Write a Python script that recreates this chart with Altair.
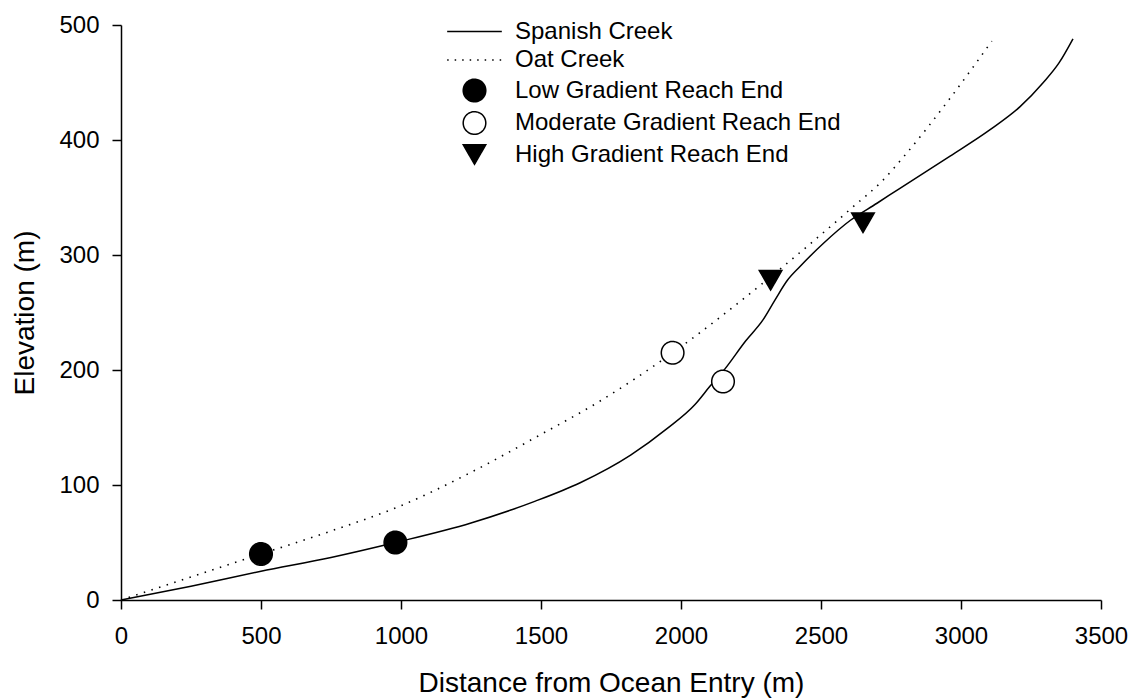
import altair as alt
import pandas as pd

# Spanish Creek longitudinal profile (distance m, elevation m)
spanish_x = [0, 250, 500, 750, 980, 1250, 1480, 1640, 1820, 1950, 2050, 2104, 2157,
             2230, 2294, 2336, 2380, 2425, 2508, 2604, 2700,
             2782, 2961, 3104, 3211, 3294, 3350, 3400]
spanish_y = [0, 12, 25, 37, 50, 67, 86, 102, 126, 149, 170, 186, 201,
             225, 244, 261, 278, 290, 310, 330, 345,
             358, 386, 409, 429, 450, 467, 488]

# Oat Creek longitudinal profile
oat_x = [0, 250, 500, 750, 1000, 1250, 1500, 1711, 1970, 2320, 2615, 2717, 2804, 2960, 3110]
oat_y = [0, 20, 40, 60, 82, 111, 144, 173, 215, 281, 342, 364, 388, 436, 486]

# Reach end markers
reach_x = [500, 980, 1970, 2150, 2320, 2650]
reach_y = [40, 50, 215, 190, 278, 328]
reach_type = ["Low Gradient Reach End", "Low Gradient Reach End",
              "Moderate Gradient Reach End", "Moderate Gradient Reach End",
              "High Gradient Reach End", "High Gradient Reach End"]

legend_names = ["Spanish Creek", "Oat Creek", "Low Gradient Reach End",
                "Moderate Gradient Reach End", "High Gradient Reach End"]
legend_shapes = ["M-2.42,0H2.42", "M-2.42,0H2.42", "circle", "circle", "triangle-down"]
legend_fills = ["transparent", "transparent", "black", "white", "black"]
legend_strokes = ["black", "black", "black", "black", "black"]
legend_dashes = [[1, 0], [1.5, 6], [1, 0], [1, 0], [1, 0]]

x_ticks = [0, 500, 1000, 1500, 2000, 2500, 3000, 3500]
y_ticks = [0, 100, 200, 300, 400, 500]

FONT = "Liberation Sans"

spanish_df = pd.DataFrame({"x": spanish_x, "y": spanish_y})
oat_df = pd.DataFrame({"x": oat_x, "y": oat_y})
reach_df = pd.DataFrame({"x": reach_x, "y": reach_y, "series": reach_type})

x_enc = alt.X("x:Q", scale=alt.Scale(domain=[0, 3500], nice=False, zero=False),
              axis=alt.Axis(values=x_ticks, format="d", title="Distance from Ocean Entry (m)",
                            labelBaseline="alphabetic", labelPadding=34,
                            titleX=490, titleY=91, titleAlign="center",
                            titleBaseline="alphabetic"))
y_enc = alt.Y("y:Q", scale=alt.Scale(domain=[0, 500], nice=False),
              axis=alt.Axis(values=y_ticks, format="d", title="Elevation (m)",
                            labelPadding=13, labelBaseline="middle",
                            titleX=-88, titleY=287.5, titleAngle=270,
                            titleAlign="center", titleBaseline="alphabetic"))

spanish = alt.Chart(spanish_df).mark_line(
    color="black", strokeWidth=1.5, interpolate="monotone"
).encode(x=x_enc, y=y_enc)

oat = alt.Chart(oat_df).mark_line(
    color="black", strokeWidth=1.6, strokeDash=[1.5, 6.5], interpolate="monotone"
).encode(x=x_enc, y=y_enc)

points = alt.Chart(reach_df).mark_point(
    filled=True, strokeWidth=1.5, size=510, opacity=1
).encode(
    x=x_enc, y=y_enc,
    shape=alt.Shape("series:N", scale=alt.Scale(domain=legend_names, range=legend_shapes),
                    legend=alt.Legend(title=None, orient="none", legendX=341, legendY=-6,
                                      labelFontSize=24, labelFont=FONT, labelColor="black",
                                      labelLimit=600, labelOffset=28, rowPadding=3.5,
                                      symbolSize=510, symbolStrokeWidth=1.5, padding=0)),
    fill=alt.Fill("series:N", scale=alt.Scale(domain=legend_names, range=legend_fills)),
    stroke=alt.Stroke("series:N", scale=alt.Scale(domain=legend_names, range=legend_strokes)),
    strokeDash=alt.StrokeDash("series:N", scale=alt.Scale(domain=legend_names, range=legend_dashes)),
)

chart = alt.layer(spanish, oat, points).properties(
    width=980, height=575,
    autosize=alt.AutoSizeParams(type="none"),
    padding={"left": 121, "top": 25, "right": 27, "bottom": 100},
    background="white",
).configure_view(stroke=None).configure_axis(
    grid=False, domainColor="black", domainWidth=1.5, tickColor="black",
    tickWidth=1.5, tickSize=9, labelFont=FONT, labelFontSize=24, labelColor="black",
    labelFlush=False, labelOverlap=False, titleFont=FONT, titleFontSize=28,
    titleFontWeight="normal", titleColor="black"
)

chart.save("out.html", embed_options={"renderer": "svg", "actions": False})
